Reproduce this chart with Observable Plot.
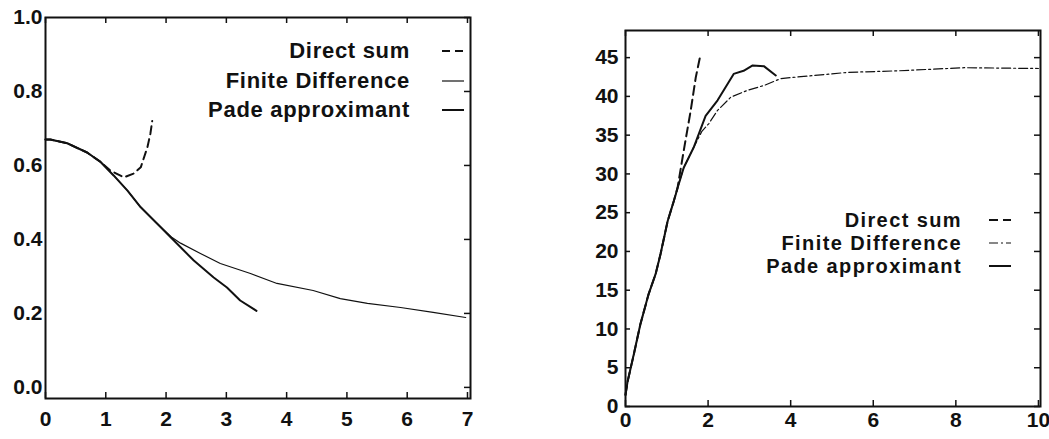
<!DOCTYPE html>
<html><head><meta charset="utf-8">
<script src="https://cdn.jsdelivr.net/npm/d3@7"></script>
<script src="https://cdn.jsdelivr.net/npm/@observablehq/plot@0.6"></script>
<style>
body{margin:0;background:#fff;width:1049px;height:439px;overflow:hidden;position:relative;font-family:"Liberation Sans",Arial,sans-serif;color:#111;}
.panel{position:absolute;top:0;}
.legend{position:absolute;font-weight:bold;line-height:1;}
.row{display:flex;align-items:center;}
.row span{display:inline-block;text-align:right;white-space:nowrap;line-height:1;}
</style></head><body>
<div id="left" class="panel" style="left:0"></div>
<div id="right" class="panel" style="left:530px"></div>
<script>
// ---- data ----
const seriesNames = ["Direct sum", "Finite Difference", "Pade approximant"];

const leftXTicks = [0, 1, 2, 3, 4, 5, 6, 7];
const leftYTicks = [0.0, 0.2, 0.4, 0.6, 0.8, 1.0];
const rightXTicks = [0, 2, 4, 6, 8, 10];
const rightYTicks = [0, 5, 10, 15, 20, 25, 30, 35, 40, 45];

const leftDirect = [[0,0.67],[0.08,0.67],[0.36,0.66],[0.69,0.635],[0.91,0.61],[1.08,0.586],[1.3,0.568],[1.46,0.578],[1.58,0.595],[1.69,0.649],[1.74,0.686],[1.77,0.72]];
const leftFinite = [[0,0.67],[0.08,0.67],[0.36,0.66],[0.69,0.635],[0.91,0.61],[1.13,0.573],[1.36,0.532],[1.58,0.487],[1.85,0.443],[2.1,0.405],[2.24,0.39],[2.57,0.362],[2.9,0.335],[3.4,0.308],[3.84,0.281],[4.44,0.262],[4.89,0.24],[5.34,0.227],[5.89,0.216],[6.43,0.203],[6.97,0.189]];
const leftPade = [[0,0.67],[0.08,0.67],[0.36,0.66],[0.69,0.635],[0.91,0.61],[1.13,0.573],[1.36,0.532],[1.58,0.487],[1.85,0.443],[2.13,0.397],[2.46,0.343],[2.79,0.297],[3.01,0.27],[3.23,0.235],[3.5,0.207]];

const rightDirect = [[0,1.5],[0.05,3.2],[0.2,6.7],[0.36,10.6],[0.56,14.5],[0.73,17.1],[0.85,19.7],[1.02,23.9],[1.17,26.5],[1.26,28.2],[1.41,33],[1.58,38.2],[1.7,42.4],[1.82,45.5]];
const rightFinite = [[0,1.5],[0.05,3.2],[0.2,6.7],[0.36,10.6],[0.56,14.5],[0.73,17.1],[0.85,19.7],[1.02,23.9],[1.17,26.5],[1.29,28.7],[1.41,30.8],[1.65,33.4],[1.85,35.5],[2.02,36.5],[2.23,38.2],[2.55,39.9],[2.96,40.8],[3.35,41.4],[3.76,42.3],[4.56,42.7],[5.39,43.1],[6.6,43.3],[8.2,43.7],[10.0,43.6]];
const rightPade = [[0,1.5],[0.05,3.2],[0.2,6.7],[0.36,10.6],[0.56,14.5],[0.73,17.1],[0.85,19.7],[1.02,23.9],[1.17,26.5],[1.29,28.7],[1.41,30.8],[1.65,33.4],[1.94,37.5],[2.23,39.5],[2.62,42.9],[2.86,43.3],[3.08,44.0],[3.35,43.9],[3.64,42.7]];

// ---- styles ----
const ink = "#111";
const styleLeft = [
  {stroke: ink, strokeWidth: 2, strokeDasharray: "8,5"},
  {stroke: ink, strokeWidth: 1.2},
  {stroke: ink, strokeWidth: 2}
];
const styleRight = [
  {stroke: ink, strokeWidth: 2, strokeDasharray: "9,5"},
  {stroke: ink, strokeWidth: 1.2, strokeDasharray: "9,3,2,3"},
  {stroke: ink, strokeWidth: 2}
];
const font = {fontSize: 21, fontWeight: "bold", fontFamily: "Liberation Sans, Arial, sans-serif"};

function panel({width, height, margins, xDomain, yDomain, xTicks, yTicks, yFormat, series, styles, xPad, yPad, leftTicks}) {
  const [ml, mr, mt, mb] = margins;
  const pw = width - ml - mr, ph = height - mt - mb, t = 6;
  const tick = {stroke: ink, strokeWidth: 1.5};
  const marks = [
    Plot.axisX({anchor: "bottom", ticks: xTicks, tickSize: 0, tickPadding: xPad, tickFormat: d => String(d), label: null, ...font}),
    Plot.axisY({anchor: "left", ticks: yTicks, tickSize: 0, tickPadding: yPad, tickFormat: yFormat, label: null, ...font}),
    // inward ticks
    Plot.ruleX(xTicks, {x: d => d, insetTop: ph - t, ...tick}),
    Plot.ruleX(xTicks, {x: d => d, insetBottom: ph - t, ...tick}),
    Plot.ruleY(yTicks, {y: d => d, insetLeft: pw - t, ...tick})
  ];
  if (leftTicks) marks.push(Plot.ruleY(yTicks, {y: d => d, insetRight: pw - 5, ...tick}));
  series.forEach((s, i) => marks.push(Plot.line(s, {x: d => d[0], y: d => d[1], ...styles[i], strokeLinejoin: "round", strokeLinecap: "round"})));
  marks.push(Plot.frame({stroke: ink, strokeWidth: 2}));
  return Plot.plot({
    width, height,
    marginLeft: ml, marginRight: mr, marginTop: mt, marginBottom: mb,
    x: {domain: xDomain},
    y: {domain: yDomain},
    style: {background: "transparent", color: ink},
    marks
  });
}

function legend(container, {left, top, textWidth, rowHeight, fontSize, spacing, gap, styles}) {
  const div = document.createElement("div");
  div.className = "legend";
  div.style.left = left + "px";
  div.style.top = top + "px";
  div.style.fontSize = fontSize + "px";
  div.style.letterSpacing = spacing + "px";
  seriesNames.forEach((name, i) => {
    const row = document.createElement("div");
    row.className = "row";
    row.style.height = rowHeight[i] + "px";
    const span = document.createElement("span");
    span.style.width = textWidth + "px";
    span.textContent = name;
    row.appendChild(span);
    const svg = d3.create("svg").attr("width", 24 + gap).attr("height", 10);
    const st = styles[i];
    svg.append("line").attr("x1", gap).attr("x2", gap + 22).attr("y1", 5).attr("y2", 5)
      .attr("stroke", st.stroke).attr("stroke-width", st.strokeWidth)
      .attr("stroke-dasharray", st.strokeDasharray || null);
    row.appendChild(svg.node());
    div.appendChild(row);
  });
  container.appendChild(div);
}

const leftEl = document.getElementById("left");
leftEl.appendChild(panel({
  width: 500, height: 439, margins: [45, 30, 17, 41],
  xDomain: [0, 7.05], yDomain: [-0.03, 1.0],
  xTicks: leftXTicks, yTicks: leftYTicks, yFormat: d3.format(".1f"),
  series: [leftDirect, leftFinite, leftPade], styles: styleLeft,
  xPad: 13, yPad: 3, leftTicks: false
}));
legend(leftEl, {left: 150, top: 35, textWidth: 260, rowHeight: [31, 29, 30], fontSize: 22, spacing: 0.7, gap: 32, styles: styleLeft});

const rightEl = document.getElementById("right");
rightEl.appendChild(panel({
  width: 519, height: 439, margins: [95, 9, 30, 33],
  xDomain: [0, 10.05], yDomain: [0, 48.5],
  xTicks: rightXTicks, yTicks: rightYTicks, yFormat: d => String(d),
  series: [rightDirect, rightFinite, rightPade], styles: styleRight,
  xPad: 6, yPad: 7, leftTicks: true
}));
legend(rightEl, {left: 170, top: 208, textWidth: 262, rowHeight: [23, 23, 23], fontSize: 20, spacing: 1.4, gap: 27, styles: styleRight});
</script>
</body></html>
